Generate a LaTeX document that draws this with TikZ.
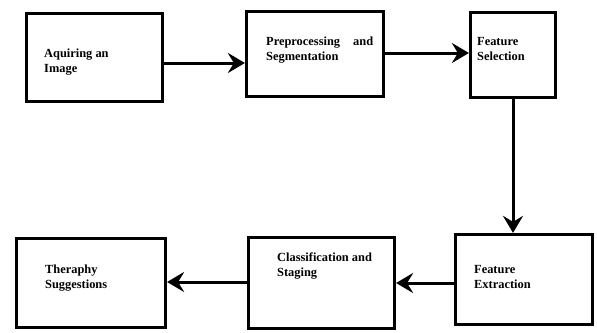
\documentclass[tikz,border=0pt]{standalone}
\usepackage{fontspec}
\setmainfont{Liberation Serif}
\usetikzlibrary{arrows.meta,calc}
\begin{document}
\begin{tikzpicture}[x=1pt,y=-1pt,
  box/.style={draw, line width=3.2pt, inner sep=0pt},
  lbl/.style={font=\bfseries\fontsize{12.4}{15}\selectfont, align=left, anchor=north west, inner sep=0pt},
  arr/.style={line width=3pt, -{Stealth[length=17pt,width=20pt,inset=6pt]}}]
\useasboundingbox[fill=white] (0,0) rectangle (597,332);
% boxes
\node[box, minimum width=136pt, minimum height=88pt] (b1) at (94.5,57.5) {};
\node[box, minimum width=137pt, minimum height=85pt] (b2) at (315,54) {};
\node[box, minimum width=85pt, minimum height=85pt] (b3) at (513,55) {};
\node[box, minimum width=137pt, minimum height=90pt] (b4) at (524,279.5) {};
\node[box, minimum width=146pt, minimum height=91pt] (b5) at (321.5,283) {};
\node[box, minimum width=149pt, minimum height=89pt] (b6) at (91,283) {};
% labels
\node[lbl] (t1) at (44,49) {Aquiring an\\Image};
\node[lbl, text width=107pt] (t2) at (266,37) {Preprocessing\hfill and\\Segmentation};
\node[lbl] (t3) at (477,37) {Feature\\Selection};
\node[lbl] (t4) at (474,265) {Feature\\Extraction};
\node[lbl] (t5) at (277,253) {Classification and\\Staging};
\node[lbl] (t6) at (45,265) {Theraphy\\Suggestions};
% arrows
\draw[arr] (b1.east |- 0,63) -- (b2.west |- 0,63);
\draw[arr] (b2.east |- 0,53) -- (b3.west |- 0,53);
\draw[arr] (b3.south) -- (b3.south |- b4.north);
\draw[arr] (b4.west |- 0,283) -- (b5.east |- 0,283);
\draw[arr] (b5.west |- 0,282) -- (b6.east |- 0,282);
\end{tikzpicture}
\end{document}
